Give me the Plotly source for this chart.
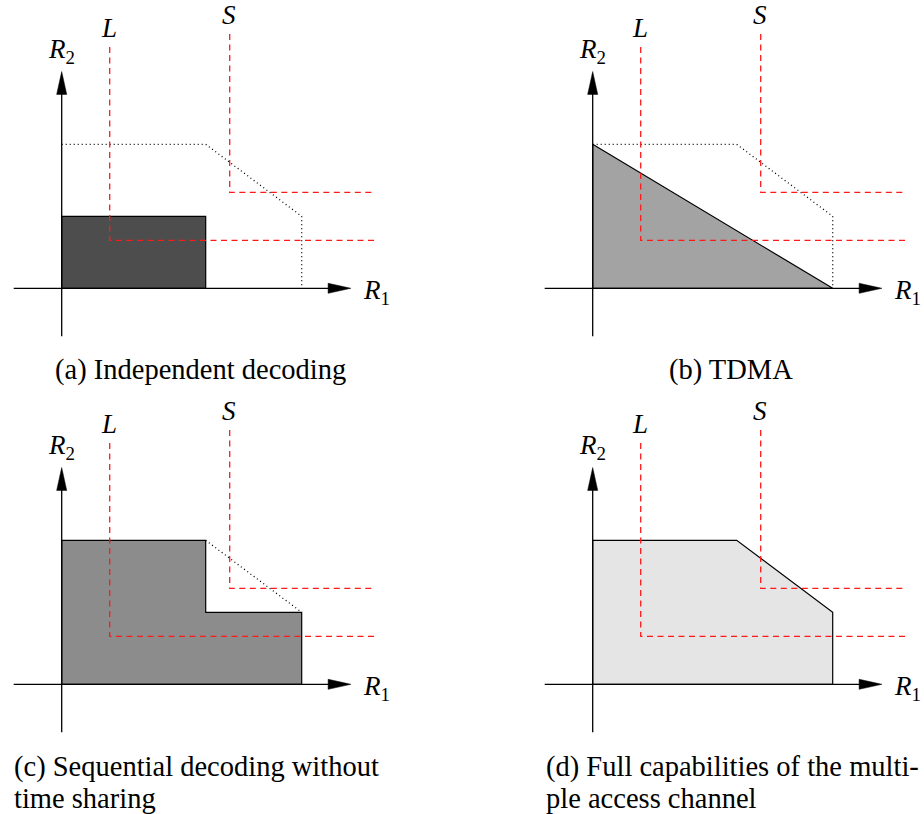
import plotly.graph_objects as go

# ---- rate regions, corner points in (R1, R2) rate units ----
mac_r1 = [0, 6, 10, 10]          # boundary of the multiple access capacity region
mac_r2 = [6, 6, 3, 0]

indep_r1 = [0, 6, 6, 0, 0]       # (a) independent decoding
indep_r2 = [0, 0, 3, 3, 0]

tdma_r1 = [0, 10, 0, 0]          # (b) TDMA
tdma_r2 = [6, 0, 0, 6]

seq_r1 = [0, 6, 6, 10, 10, 0, 0]  # (c) sequential decoding without time sharing
seq_r2 = [6, 6, 3, 3, 0, 0, 6]

full_r1 = [0, 6, 10, 10, 0, 0]    # (d) full MAC region
full_r2 = [6, 6, 3, 0, 0, 6]

# ---- rate requirements of the two classes ----
req_names = ["L", "S"]
req_r1 = [2, 7]
req_r2 = [2, 4]
req_top = [10.05, 10.6]
req_right = 13.05

region_r1 = [indep_r1, tdma_r1, seq_r1, full_r1]
region_r2 = [indep_r2, tdma_r2, seq_r2, full_r2]
region_fill = ["#4d4d4d", "#a3a3a3", "#8c8c8c", "#e5e5e5"]

# dotted part of the MAC boundary drawn in each panel (index range into mac_*)
dotted_span = [(0, 4), (0, 4), (1, 3), None]

captions = [
    ["(a) Independent decoding"],
    ["(b) TDMA"],
    ["(c) Sequential decoding without", "time sharing"],
    ["(d) Full capabilities of the multi-", "ple access channel"],
]

# ---- geometry ----
W, H = 924, 814
PX = 24.0                      # pixels per rate unit
AX_MIN = -2.0                  # axis tails
X_TIP, Y_TIP = 12.05, 9.03     # arrow tips
HEAD_LEN, HEAD_HALF = 0.95, 0.21

panels = [
    dict(xd=[0.0, 0.5], yd=[0.5, 1.0], ox=61.7, oy=288.3),
    dict(xd=[0.5, 1.0], yd=[0.5, 1.0], ox=592.7, oy=288.3),
    dict(xd=[0.0, 0.5], yd=[0.0, 0.5], ox=61.7, oy=684.3),
    dict(xd=[0.5, 1.0], yd=[0.0, 0.5], ox=592.7, oy=684.3),
]
caption_pos = [  # (anchor x px, first line centre y px, xanchor)
    (200, 370, "center"),
    (731, 370, "center"),
    (12, 767, "left"),
    (544, 767, "left"),
]
LINE_GAP = 31

FONT = "Liberation Serif"
MATH_SIZE = 27
CAP_SIZE = 28.5

fig = go.Figure()
layout = dict(
    width=W, height=H, margin=dict(l=0, r=0, t=0, b=0),
    paper_bgcolor="white", plot_bgcolor="white", showlegend=False,
)
annotations = []

for i, p in enumerate(panels):
    n = "" if i == 0 else str(i + 1)
    xa, ya = "x" + n, "y" + n
    p0, p1 = p["xd"][0] * W, p["xd"][1] * W
    top, bot = (1 - p["yd"][1]) * H, (1 - p["yd"][0]) * H
    layout["xaxis" + n] = dict(domain=p["xd"], range=[(p0 - p["ox"]) / PX, (p1 - p["ox"]) / PX],
                               visible=False, fixedrange=True, anchor=ya)
    layout["yaxis" + n] = dict(domain=p["yd"], range=[(p["oy"] - bot) / PX, (p["oy"] - top) / PX],
                               visible=False, fixedrange=True, anchor=xa)

    # filled achievable region
    fig.add_trace(go.Scatter(x=region_r1[i], y=region_r2[i], mode="lines", fill="toself",
                             fillcolor=region_fill[i], line=dict(color="black", width=1.2),
                             xaxis=xa, yaxis=ya, hoverinfo="skip"))

    # dotted MAC boundary
    if dotted_span[i] is not None:
        a, b = dotted_span[i]
        fig.add_trace(go.Scatter(x=mac_r1[a:b], y=mac_r2[a:b], mode="lines",
                                 line=dict(color="black", width=1.3, dash="1px,3px"),
                                 xaxis=xa, yaxis=ya, hoverinfo="skip"))

    # axes with arrow heads
    fig.add_trace(go.Scatter(x=[AX_MIN, X_TIP - HEAD_LEN * 0.5], y=[0, 0], mode="lines",
                             line=dict(color="black", width=1.3), xaxis=xa, yaxis=ya, hoverinfo="skip"))
    fig.add_trace(go.Scatter(x=[0, 0], y=[AX_MIN, Y_TIP - HEAD_LEN * 0.5], mode="lines",
                             line=dict(color="black", width=1.3), xaxis=xa, yaxis=ya, hoverinfo="skip"))
    fig.add_trace(go.Scatter(x=[X_TIP, X_TIP - HEAD_LEN, X_TIP - HEAD_LEN, X_TIP],
                             y=[0, HEAD_HALF, -HEAD_HALF, 0], mode="lines", fill="toself",
                             fillcolor="black", line=dict(color="black", width=0.5),
                             xaxis=xa, yaxis=ya, hoverinfo="skip"))
    fig.add_trace(go.Scatter(x=[0, HEAD_HALF, -HEAD_HALF, 0],
                             y=[Y_TIP, Y_TIP - HEAD_LEN, Y_TIP - HEAD_LEN, Y_TIP], mode="lines",
                             fill="toself", fillcolor="black", line=dict(color="black", width=0.5),
                             xaxis=xa, yaxis=ya, hoverinfo="skip"))

    # rate requirement quadrants
    for k, name in enumerate(req_names):
        fig.add_trace(go.Scatter(x=[req_r1[k], req_r1[k], req_right],
                                 y=[req_top[k], req_r2[k], req_r2[k]], mode="lines",
                                 line=dict(color="#ff1a1a", width=1.3, dash="6px,4.5px"),
                                 xaxis=xa, yaxis=ya, hoverinfo="skip"))
        annotations.append(dict(x=req_r1[k] - 0.05, y=req_top[k] + 0.78, xref=xa, yref=ya,
                                text=name, showarrow=False,
                                font=dict(family=FONT, size=MATH_SIZE, color="black", style="italic"),
                                xanchor="center", yanchor="middle"))

    annotations.append(dict(x=0.0, y=Y_TIP + 0.85, xref=xa, yref=ya, text="<i>R</i><sub>2</sub>",
                            showarrow=False, font=dict(family=FONT, size=MATH_SIZE, color="black"),
                            xanchor="center", yanchor="middle"))
    annotations.append(dict(x=X_TIP + 1.05, y=-0.15, xref=xa, yref=ya, text="<i>R</i><sub>1</sub>",
                            showarrow=False, font=dict(family=FONT, size=MATH_SIZE, color="black"),
                            xanchor="center", yanchor="middle"))

    cx, cy, anc = caption_pos[i]
    for j, line in enumerate(captions[i]):
        annotations.append(dict(x=cx / W, y=1 - (cy + j * LINE_GAP) / H, xref="paper", yref="paper",
                                text=line, showarrow=False, xanchor=anc, yanchor="middle",
                                font=dict(family=FONT, size=CAP_SIZE, color="black")))

layout["annotations"] = annotations
fig.update_layout(**layout)
fig.write_html("out.html")
